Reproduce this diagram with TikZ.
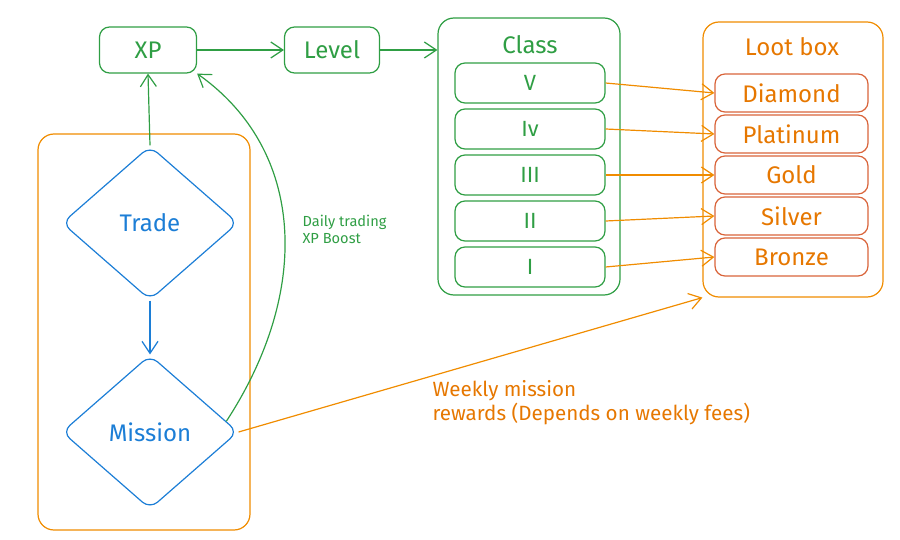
\documentclass[tikz,border=0pt]{standalone}
\usepackage{fontspec}
\setmainfont{Fira Sans}
\usetikzlibrary{arrows.meta,shapes.geometric,positioning}
\definecolor{xgreen}{HTML}{2F9E44}
\definecolor{xblue}{HTML}{1C7ED6}
\definecolor{xorange}{HTML}{F08C00}
\definecolor{xtext}{HTML}{E67700}
\definecolor{xred}{HTML}{D9643A}

\begin{document}
\begin{tikzpicture}[
    x=0.5pt, y=-0.5pt, ->, >={Straight Barb[length=6pt,width=8pt]}, semithick,
    greenbox/.style={draw=xgreen, text=xgreen, rounded corners=5pt, minimum height=23pt, font=\fontsize{12}{14}\selectfont},
    classbox/.style={draw=xgreen, text=xgreen, rounded corners=5pt, minimum width=75pt, minimum height=20pt, font=\fontsize{11}{13}\selectfont},
    lootbox/.style={draw=xred, text=xtext, rounded corners=5pt, minimum width=76.5pt, minimum height=19pt, font=\fontsize{12}{14}\selectfont},
    frame/.style={draw, rounded corners=8pt, inner sep=0pt},
    decision/.style={diamond, draw=xblue, text=xblue, rounded corners=5pt, inner sep=0pt, minimum width=88pt, minimum height=77pt, aspect=1.14, font=\fontsize{12}{14}\selectfont},
    note/.style={anchor=west, align=left, inner sep=0pt}
  ]
  \useasboundingbox (0,0) rectangle (900,540);

  % top row
  \node[greenbox, minimum width=48.5pt] (xp) at (148,50) {XP};
  \node[greenbox, minimum width=47.5pt] (level) at (332,50) {Level};

  % class column
  \node[frame, draw=xgreen, minimum width=91pt, minimum height=138.5pt] (classframe) at (529,156.5) {};
  \node[text=xgreen, font=\fontsize{12}{14}\selectfont] (classtitle) at (530,45) {Class};
  \node[classbox] (v) at (530,83) {V};
  \node[classbox, below of=v, node distance=23pt] (iv) {Iv};
  \node[classbox, below of=iv, node distance=23pt] (iii) {III};
  \node[classbox, below of=iii, node distance=23pt] (ii) {II};
  \node[classbox, below of=ii, node distance=23pt] (i) {I};

  % loot column
  \node[frame, draw=xorange, minimum width=90pt, minimum height=137.5pt] (lootframe) at (793,159.5) {};
  \node[text=xtext, font=\fontsize{12}{14}\selectfont] (loottitle) at (792,47) {Loot box};
  \node[lootbox] (diamondbox) at (791.5,93) {Diamond};
  \node[lootbox, below of=diamondbox, node distance=20.5pt] (platinum) {Platinum};
  \node[lootbox, below of=platinum, node distance=20.5pt] (gold) {Gold};
  \node[lootbox, below of=gold, node distance=20.5pt] (silver) {Silver};
  \node[lootbox, below of=silver, node distance=20.5pt] (bronze) {Bronze};

  % activity column
  \node[frame, draw=xorange, minimum width=106pt, minimum height=198pt] (actframe) at (144,332) {};
  \node[decision] (trade) at (150,223) {Trade};
  \node[decision] (mission) at (150,432) {Mission};

  \node[note, text=xgreen, font=\fontsize{7.3}{8.5}\selectfont] (boost) at (302,229) {Daily trading\\XP Boost};
  \node[note, text=xtext, font=\fontsize{10.3}{10}\selectfont] (weekly) at (432,403) {Weekly mission\\rewards (Depends on weekly fees)};

  \draw[xgreen] (xp) -- (level);
  \draw[xgreen] (level.east) -- (level.east -| classframe.west);
  \draw[xgreen] (trade.north) -- (xp.south);
  \draw[xgreen] (mission.8) .. controls (312,290) and (305,150) .. (xp.south east);
  \draw[xblue] (trade) -- (mission);

  \draw[xorange] (v.east) -- (diamondbox.west);
  \draw[xorange] (iv.east) -- (platinum.west);
  \draw[xorange] (iii.east) -- (gold.west);
  \draw[xorange] (ii.east) -- (silver.west);
  \draw[xorange] (i.east) -- (bronze.west);
  \draw[xorange] (mission.east) -- (lootframe.south west);
\end{tikzpicture}
\end{document}
